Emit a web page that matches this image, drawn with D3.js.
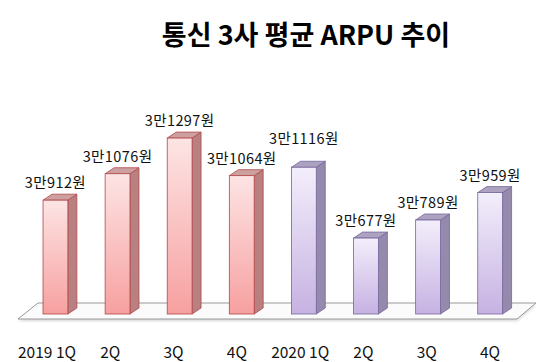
<!DOCTYPE html>
<html>
<head>
<meta charset="utf-8">
<script src="https://cdn.jsdelivr.net/npm/d3@7"></script>
<style>
  body { margin: 0; background: #fff; }
  text { font-family: "Noto Sans CJK KR", "Noto Sans", sans-serif; }
</style>
</head>
<body>
<svg id="chart" width="555" height="362"></svg>
<script>
const quarters = ["2019 1Q", "2Q", "3Q", "4Q", "2020 1Q", "2Q", "3Q", "4Q"];
const arpu = [30912, 31076, 31297, 31064, 31116, 30677, 30789, 30959];
const years = [2019, 2019, 2019, 2019, 2020, 2020, 2020, 2020];
const valueLabels = ["3만912원", "3만1076원", "3만1297원", "3만1064원", "3만1116원", "3만677원", "3만789원", "3만959원"];

const svg = d3.select("#chart");
const depth = {dx: 9, dy: -6};
const baseY = 314;

const x = d3.scaleBand().domain(d3.range(quarters.length)).range([30.6, 515]).paddingInner(0.6).paddingOuter(0.2);
const xLabel = d3.scalePoint().domain(d3.range(quarters.length)).range([47, 490]);
const y = d3.scaleLinear().domain([30200, 31300]).range([baseY + 1, 137.6]);

const palette = {
  2019: {top: "#fde4e4", bottom: "#f7a0a0", side: "#b88080", lid: "#cda0a0", stroke: "#b24848"},
  2020: {top: "#f3eefb", bottom: "#c6b2e2", side: "#958aab", lid: "#ada2bf", stroke: "#75679c"}
};

const defs = svg.append("defs");
[2019, 2020].forEach(yr => {
  const g = defs.append("linearGradient").attr("id", "g" + yr)
    .attr("x1", 0).attr("y1", 0).attr("x2", 0).attr("y2", 1);
  g.append("stop").attr("offset", "0%").attr("stop-color", palette[yr].top);
  g.append("stop").attr("offset", "100%").attr("stop-color", palette[yr].bottom);
});
const sh = defs.append("filter").attr("id", "blur");
sh.append("feGaussianBlur").attr("stdDeviation", 1.5);

// title
svg.append("text")
  .attr("x", 306).attr("y", 45)
  .attr("text-anchor", "middle")
  .attr("font-size", 27).attr("font-weight", "bold")
  .text("통신 3사 평균 ARPU 추이");

// floor plate
const floor = [[18, 319], [38, 303], [536, 303], [517, 319]];
svg.append("polygon")
  .attr("points", floor.map(p => [p[0], p[1] + 2].join(",")).join(" "))
  .attr("fill", "#ccc").attr("filter", "url(#blur)").attr("opacity", 0.8);
svg.append("polygon")
  .attr("points", floor.map(p => p.join(",")).join(" "))
  .attr("fill", "#fbfbfb").attr("stroke", "#999").attr("stroke-width", 1);

const bars = svg.append("g").selectAll("g").data(arpu).join("g");

bars.append("path")
  .attr("fill", (d, i) => palette[years[i]].side)
  .attr("stroke", (d, i) => palette[years[i]].stroke).attr("stroke-width", 0.8)
  .attr("d", (d, i) => {
    const x1 = x(i) + x.bandwidth(), t = y(d);
    return `M${x1},${t}L${x1 + depth.dx},${t + depth.dy}L${x1 + depth.dx},${baseY + depth.dy}L${x1},${baseY}Z`;
  });

bars.append("path")
  .attr("fill", (d, i) => palette[years[i]].lid)
  .attr("stroke", (d, i) => palette[years[i]].stroke).attr("stroke-width", 0.8)
  .attr("d", (d, i) => {
    const x0 = x(i), x1 = x0 + x.bandwidth(), t = y(d);
    return `M${x0},${t}L${x0 + depth.dx},${t + depth.dy}L${x1 + depth.dx},${t + depth.dy}L${x1},${t}Z`;
  });

bars.append("rect")
  .attr("x", (d, i) => x(i))
  .attr("y", d => y(d))
  .attr("width", x.bandwidth())
  .attr("height", d => baseY - y(d))
  .attr("fill", (d, i) => `url(#g${years[i]})`)
  .attr("stroke", (d, i) => palette[years[i]].stroke).attr("stroke-width", 0.8);

// value labels; 2020 1Q is lifted so it clears its neighbour
bars.append("text")
  .attr("x", (d, i) => x(i) + x.bandwidth() / 2)
  .attr("y", (d, i) => y(d) - (i === 4 ? 23 : 12))
  .attr("text-anchor", "middle")
  .attr("font-size", 14.5)
  .attr("letter-spacing", 0.4)
  .attr("fill", "#111")
  .text((d, i) => valueLabels[i]);

// category labels
svg.append("g").selectAll("text").data(quarters).join("text")
  .attr("x", (d, i) => xLabel(i))
  .attr("y", 358)
  .attr("text-anchor", "middle")
  .attr("font-size", 15.5)
  .attr("fill", "#111")
  .text(d => d);
</script>
</body>
</html>
